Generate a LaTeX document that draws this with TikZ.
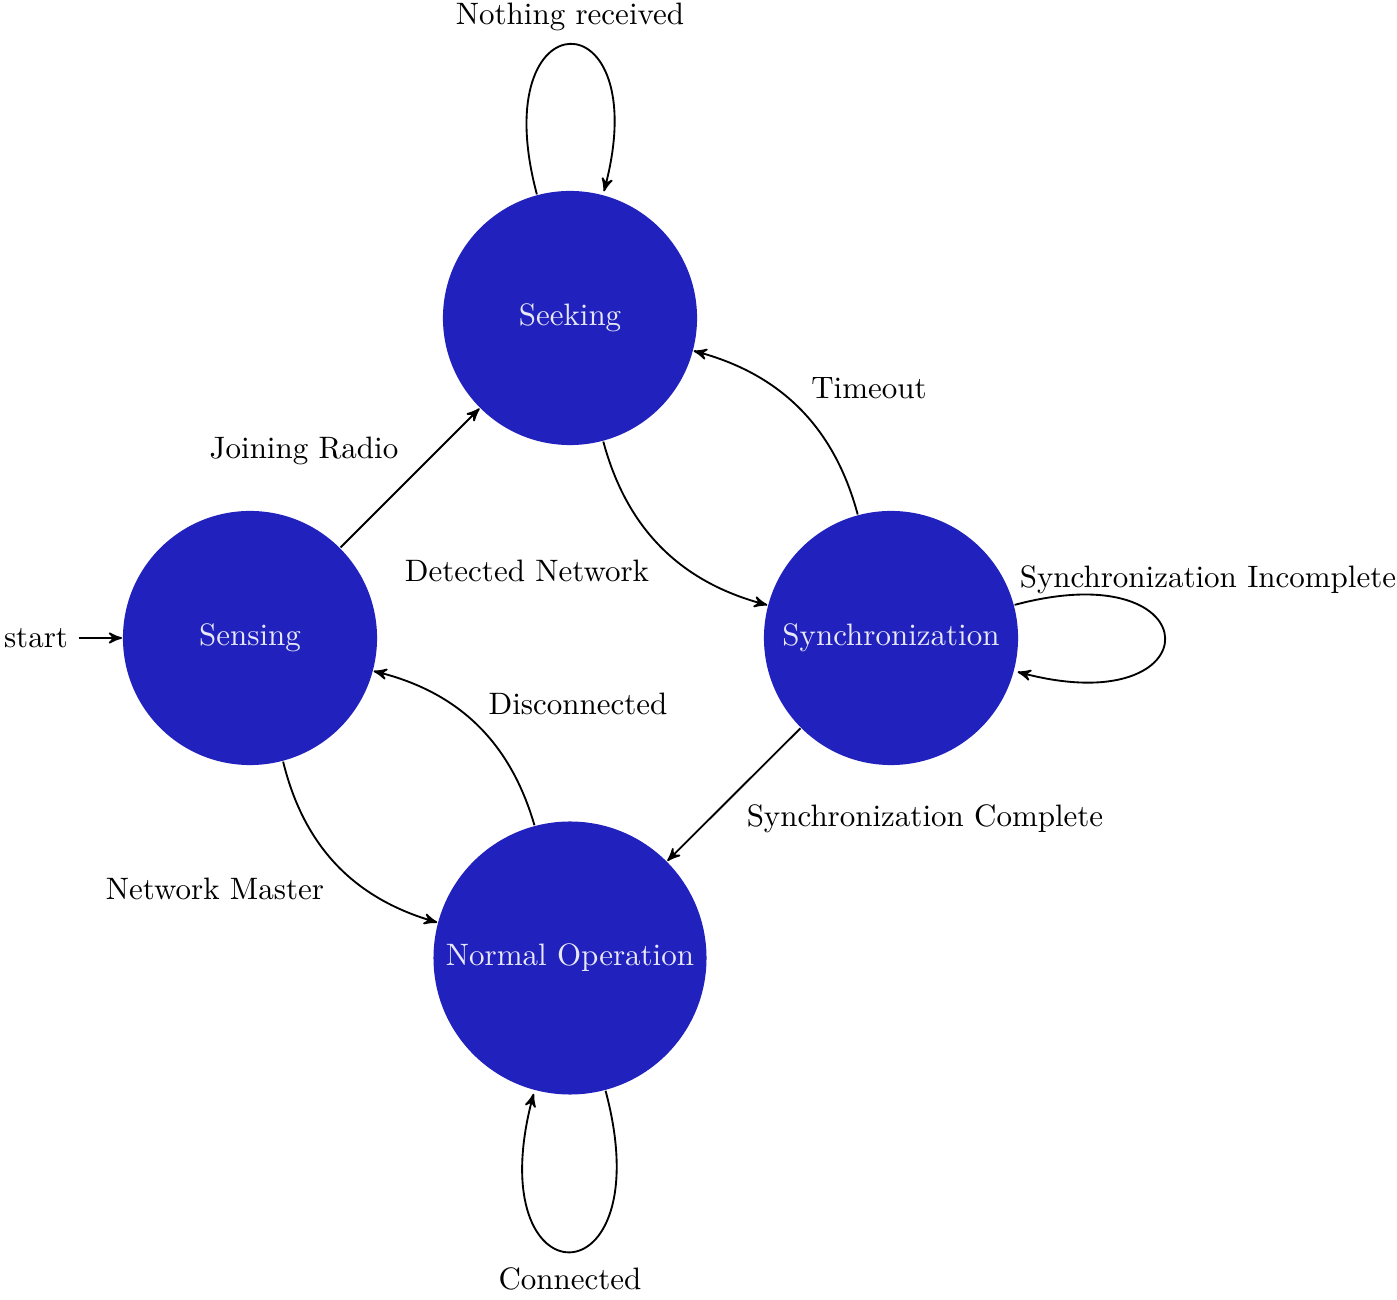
\documentclass[tikz,border=0pt]{standalone}
\usetikzlibrary{arrows,automata}
\definecolor{statefill}{RGB}{33,33,189}
\definecolor{statetext}{RGB}{232,232,248}
\begin{document}
\begin{tikzpicture}[x=0.3227pt,y=-0.3227pt,
  >=stealth', semithick,
  mystate/.style={circle, fill=statefill, text=statetext, minimum size=82pt, inner sep=3.33pt},
  lbl/.style={inner sep=0pt}]
\useasboundingbox (0,0) rectangle (1397,1300);
\node[mystate] (sen) at (250,638) {Sensing};
\node[mystate] (see) at (570,318) {Seeking};
\node[mystate] (syn) at (891,638) {Synchronization};
\node[mystate] (nor) at (570,958) {Normal Operation};
\node (st) at (36,638) {start};

\draw[->] (st) -- (sen);
\draw[->] (sen) -- (see);
\draw[->] (see) to[bend right] (syn);
\draw[->] (syn) to[bend right] (see);
\draw[->] (syn) -- (nor);
\draw[->] (nor) to[bend right] (sen);
\draw[->] (sen) to[bend right] (nor);
\draw[->] (see) edge[loop above] (see);
\draw[->] (syn) edge[loop right] (syn);
\draw[->] (nor) edge[loop below] (nor);

\node[lbl] (l1) at (570,17) {Nothing received};
\node[lbl] (l2) at (304,451) {Joining Radio};
\node[lbl] (l3) at (869,388) {Timeout};
\node[lbl] (l4) at (527,571) {Detected Network};
\node[lbl] (l5) at (1208,580) {Synchronization Incomplete};
\node[lbl] (l6) at (578,704) {Disconnected};
\node[lbl] (l7) at (925,819) {Synchronization Complete};
\node[lbl] (l8) at (215,889) {Network Master};
\node[lbl] (l9) at (570,1279) {Connected};
\end{tikzpicture}
\end{document}
